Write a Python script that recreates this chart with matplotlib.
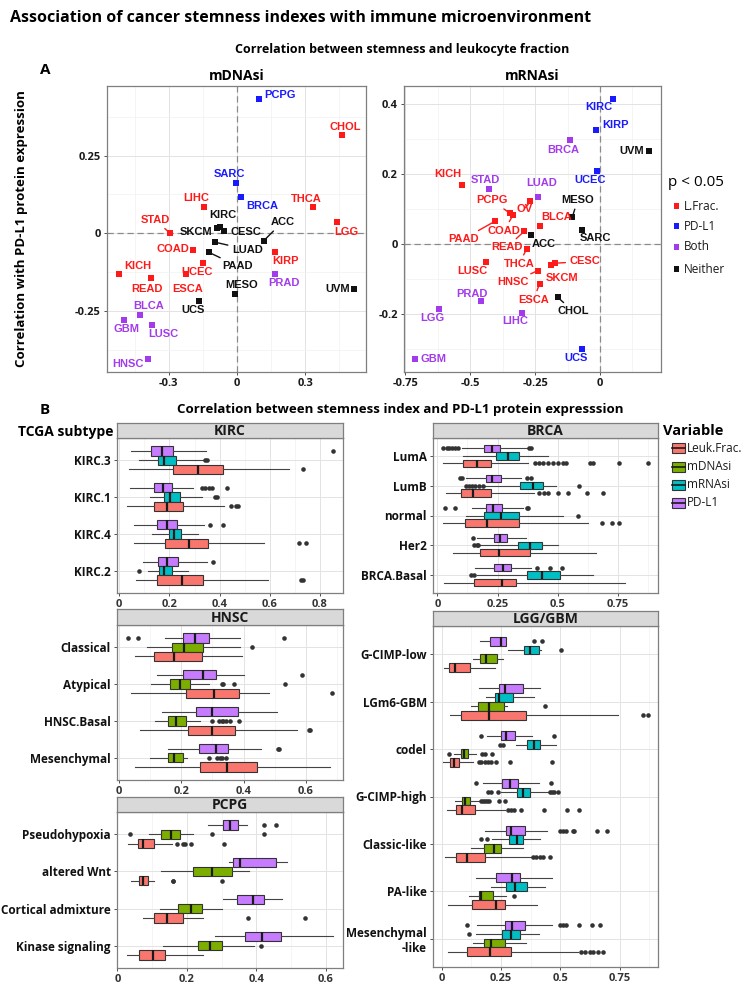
import matplotlib
matplotlib.use("Agg")
import matplotlib.pyplot as plt
from matplotlib.patches import Rectangle

W, H = 751, 992
fig = plt.figure(figsize=(W / 100, H / 100), dpi=100)

FONT = "Open Sans"
LABEL_FONT = "Liberation Sans"

# ---------------- data: panel A ----------------
SIG_COLORS = {"L.Frac.": "#FF1A1A", "PD-L1": "#1A1AFF", "Both": "#A23BEC", "Neither": "#111111"}

MD_CANCERS = ["PCPG", "CHOL", "SARC", "BRCA", "LIHC", "THCA", "LGG", "STAD", "KIRC", "SKCM",
              "CESC", "ACC", "LUAD", "PAAD", "COAD", "KIRP", "UCEC", "ESCA", "KICH", "READ",
              "PRAD", "MESO", "UVM", "UCS", "BLCA", "GBM", "LUSC", "HNSC"]
MD_X = [0.096, 0.463, -0.003, 0.018, -0.144, 0.335, 0.441, -0.294, -0.074, -0.088,
        -0.056, 0.118, -0.096, -0.125, -0.194, 0.169, -0.147, -0.226, -0.519, -0.378,
        0.165, -0.010, 0.515, -0.165, -0.426, -0.496, -0.375, -0.393]
MD_Y = [0.432, 0.317, 0.162, 0.118, 0.084, 0.084, 0.035, 0.000, 0.019, 0.016,
        0.006, -0.024, -0.029, -0.061, -0.054, -0.059, -0.095, -0.131, -0.133, -0.144,
        -0.133, -0.195, -0.181, -0.217, -0.265, -0.279, -0.295, -0.405]
MD_SIG = ["PD-L1", "L.Frac.", "PD-L1", "PD-L1", "L.Frac.", "L.Frac.", "L.Frac.", "L.Frac.", "Neither", "Neither",
          "Neither", "Neither", "Neither", "Neither", "L.Frac.", "L.Frac.", "L.Frac.", "L.Frac.", "L.Frac.", "L.Frac.",
          "Both", "Neither", "Neither", "Neither", "Both", "Both", "Both", "Both"]

MR_CANCERS = ["KIRC", "KIRP", "BRCA", "UVM", "UCEC", "KICH", "STAD", "LUAD", "OV", "PCPG",
              "COAD", "READ", "THCA", "MESO", "PAAD", "BLCA", "ACC", "SARC", "LUSC", "CESC",
              "SKCM", "HNSC", "ESCA", "CHOL", "PRAD", "LIHC", "LGG", "GBM", "UCS"]
MR_X = [0.051, -0.015, -0.115, 0.188, -0.012, -0.532, -0.428, -0.240, -0.268, -0.346,
        -0.336, -0.292, -0.282, -0.106, -0.406, -0.233, -0.267, -0.071, -0.440, -0.173,
        -0.190, -0.240, -0.233, -0.163, -0.460, -0.301, -0.622, -0.714, -0.068]
MR_Y = [0.413, 0.326, 0.296, 0.266, 0.209, 0.169, 0.157, 0.133, 0.121, 0.087,
        0.081, 0.036, -0.014, 0.078, 0.064, 0.052, 0.026, 0.041, -0.052, -0.055,
        -0.060, -0.076, -0.114, -0.152, -0.164, -0.197, -0.186, -0.328, -0.300]
MR_SIG = ["PD-L1", "PD-L1", "Both", "Neither", "PD-L1", "L.Frac.", "Both", "Both", "L.Frac.", "L.Frac.",
          "L.Frac.", "L.Frac.", "L.Frac.", "Neither", "L.Frac.", "L.Frac.", "Neither", "Neither", "L.Frac.", "L.Frac.",
          "L.Frac.", "L.Frac.", "L.Frac.", "Neither", "Both", "Both", "Both", "Both", "PD-L1"]

# label placement (layout, not data)
MD_LABELS = {"PCPG": (0.188, 0.445), "CHOL": (0.478, 0.343), "SARC": (-0.034, 0.191), "BRCA": (0.110, 0.089),
             "LIHC": (-0.179, 0.114), "THCA": (0.306, 0.111), "LGG": (0.481, 0.005), "STAD": (-0.360, 0.043),
             "KIRC": (-0.062, 0.059), "SKCM": (-0.181, 0.003), "CESC": (0.037, 0.003), "ACC": (0.199, 0.035),
             "LUAD": (0.046, -0.053), "PAAD": (0.003, -0.106), "COAD": (-0.282, -0.050), "KIRP": (0.213, -0.090),
             "UCEC": (-0.176, -0.126), "ESCA": (-0.218, -0.181), "KICH": (-0.437, -0.106), "READ": (-0.397, -0.181),
             "PRAD": (0.206, -0.161), "MESO": (0.022, -0.167), "UVM": (0.441, -0.181), "UCS": (-0.191, -0.247),
             "BLCA": (-0.390, -0.236), "GBM": (-0.485, -0.308), "LUSC": (-0.324, -0.324), "HNSC": (-0.478, -0.421)}
MD_LEADERS = {"STAD", "ACC", "LUAD", "PAAD"}

MR_LABELS = {"KIRC": (-0.006, 0.390), "KIRP": (0.060, 0.340), "BRCA": (-0.141, 0.269), "UVM": (0.124, 0.264),
             "UCEC": (-0.038, 0.183), "KICH": (-0.587, 0.200), "STAD": (-0.442, 0.181), "LUAD": (-0.224, 0.174),
             "PCPG": (-0.417, 0.124), "OV": (-0.291, 0.100), "MESO": (-0.086, 0.125), "BLCA": (-0.167, 0.076),
             "PAAD": (-0.526, 0.014), "COAD": (-0.369, 0.038), "ACC": (-0.215, 0.000), "SARC": (-0.019, 0.016),
             "READ": (-0.359, -0.010), "LUSC": (-0.491, -0.078), "THCA": (-0.312, -0.057), "CESC": (-0.058, -0.050),
             "SKCM": (-0.147, -0.097), "HNSC": (-0.336, -0.109), "ESCA": (-0.256, -0.159), "CHOL": (-0.103, -0.192),
             "PRAD": (-0.494, -0.143), "LIHC": (-0.327, -0.220), "LGG": (-0.647, -0.212), "GBM": (-0.641, -0.328),
             "UCS": (-0.092, -0.326)}
MR_LEADERS = {"PCPG", "MESO", "PAAD", "COAD", "READ", "THCA", "CESC", "HNSC", "ESCA", "CHOL", "OV"}

# ---------------- data: panel B (whislo, q1, med, q3, whishi, outliers) ----------------
VAR_ORDER = ["PD-L1", "mRNAsi", "mDNAsi", "Leuk.Frac."]  # top to bottom inside each subtype
VAR_COLORS = {"Leuk.Frac.": "#F8766D", "mDNAsi": "#7CAE00", "mRNAsi": "#00BFC4", "PD-L1": "#C77CFF"}

KIRC_CATS = ["KIRC.3", "KIRC.1", "KIRC.4", "KIRC.2"]
KIRC_ROWS = [
    ("KIRC.3", "PD-L1", 0.045, 0.125, 0.169, 0.215, 0.344, [0.851]),
    ("KIRC.3", "mRNAsi", 0.080, 0.156, 0.178, 0.225, 0.335, [0.340, 0.348]),
    ("KIRC.3", "Leuk.Frac.", 0.040, 0.215, 0.312, 0.415, 0.677, [0.734]),
    ("KIRC.1", "PD-L1", 0.043, 0.140, 0.176, 0.211, 0.295, [0.328, 0.342, 0.359, 0.368, 0.431]),
    ("KIRC.1", "mRNAsi", 0.122, 0.180, 0.202, 0.241, 0.328, [0.382, 0.391]),
    ("KIRC.1", "Leuk.Frac.", 0.032, 0.140, 0.189, 0.253, 0.419, [0.445, 0.465, 0.475]),
    ("KIRC.4", "PD-L1", 0.060, 0.149, 0.189, 0.229, 0.339, [0.362, 0.412]),
    ("KIRC.4", "mRNAsi", 0.132, 0.197, 0.219, 0.247, 0.315, []),
    ("KIRC.4", "Leuk.Frac.", 0.060, 0.184, 0.277, 0.352, 0.578, [0.717, 0.743]),
    ("KIRC.2", "PD-L1", 0.096, 0.156, 0.191, 0.235, 0.348, [0.372]),
    ("KIRC.2", "mRNAsi", 0.116, 0.158, 0.180, 0.210, 0.275, [0.077]),
    ("KIRC.2", "Leuk.Frac.", 0.066, 0.152, 0.250, 0.332, 0.594, [0.725, 0.734]),
]

HNSC_CATS = ["Classical", "Atypical", "HNSC.Basal", "Mesenchymal"]
HNSC_ROWS = [
    ("Classical", "PD-L1", 0.146, 0.204, 0.245, 0.288, 0.390, [0.027, 0.060, 0.530]),
    ("Classical", "mDNAsi", 0.088, 0.169, 0.210, 0.270, 0.390, [0.428]),
    ("Classical", "Leuk.Frac.", 0.050, 0.113, 0.176, 0.267, 0.394, []),
    ("Atypical", "PD-L1", 0.122, 0.206, 0.270, 0.311, 0.400, [0.589]),
    ("Atypical", "mDNAsi", 0.102, 0.165, 0.195, 0.228, 0.290, [0.330, 0.335, 0.370, 0.534]),
    ("Atypical", "Leuk.Frac.", 0.038, 0.214, 0.306, 0.386, 0.482, [0.686]),
    ("HNSC.Basal", "PD-L1", 0.138, 0.246, 0.297, 0.381, 0.507, []),
    ("HNSC.Basal", "mDNAsi", 0.115, 0.158, 0.183, 0.214, 0.260, [0.297, 0.320, 0.330, 0.335, 0.345, 0.355, 0.386]),
    ("HNSC.Basal", "Leuk.Frac.", 0.067, 0.222, 0.297, 0.372, 0.571, [0.610, 0.614]),
    ("Mesenchymal", "PD-L1", 0.158, 0.257, 0.313, 0.351, 0.456, [0.512, 0.515]),
    ("Mesenchymal", "mDNAsi", 0.099, 0.156, 0.176, 0.206, 0.219, [0.290, 0.316, 0.324, 0.330, 0.343]),
    ("Mesenchymal", "Leuk.Frac.", 0.050, 0.260, 0.346, 0.442, 0.678, []),
]

PCPG_CATS = ["Pseudohypoxia", "altered Wnt", "Cortical admixture", "Kinase signaling"]
PCPG_ROWS = [
    ("Pseudohypoxia", "PD-L1", 0.260, 0.305, 0.325, 0.348, 0.372, [0.423, 0.455]),
    ("Pseudohypoxia", "mDNAsi", 0.092, 0.126, 0.154, 0.180, 0.219, [0.035, 0.272, 0.423]),
    ("Pseudohypoxia", "Leuk.Frac.", 0.030, 0.060, 0.075, 0.104, 0.156, [0.171, 0.188, 0.195, 0.212, 0.307]),
    ("altered Wnt", "PD-L1", 0.322, 0.332, 0.353, 0.455, 0.487, []),
    ("altered Wnt", "mDNAsi", 0.126, 0.217, 0.272, 0.329, 0.379, []),
    ("altered Wnt", "Leuk.Frac.", 0.038, 0.063, 0.073, 0.089, 0.104, [0.159, 0.160, 0.302]),
    ("Cortical admixture", "PD-L1", 0.303, 0.343, 0.391, 0.423, 0.473, []),
    ("Cortical admixture", "mDNAsi", 0.123, 0.174, 0.212, 0.244, 0.300, []),
    ("Cortical admixture", "Leuk.Frac.", 0.073, 0.104, 0.142, 0.190, 0.247, [0.375, 0.540]),
    ("Kinase signaling", "PD-L1", 0.281, 0.368, 0.415, 0.470, 0.621, []),
    ("Kinase signaling", "mDNAsi", 0.132, 0.231, 0.267, 0.300, 0.393, [0.413]),
    ("Kinase signaling", "Leuk.Frac.", 0.029, 0.063, 0.102, 0.137, 0.245, []),
]

BRCA_CATS = ["LumA", "LumB", "normal", "Her2", "BRCA.Basal"]
BRCA_ROWS = [
    ("LumA", "PD-L1", 0.104, 0.193, 0.225, 0.260, 0.370,
     [0.025, 0.038, 0.050, 0.062, 0.075, 0.087, 0.380, 0.390]),
    ("LumA", "mRNAsi", 0.108, 0.243, 0.291, 0.338, 0.460, []),
    ("LumA", "Leuk.Frac.", 0.025, 0.105, 0.163, 0.221, 0.377,
     [0.405, 0.420, 0.440, 0.460, 0.480, 0.500, 0.520, 0.535, 0.633, 0.646, 0.754, 0.874]),
    ("LumB", "PD-L1", 0.120, 0.202, 0.225, 0.262, 0.345, [0.094, 0.104, 0.370, 0.387]),
    ("LumB", "mRNAsi", 0.198, 0.343, 0.398, 0.439, 0.494, [0.119, 0.133, 0.143, 0.157, 0.173, 0.190, 0.587]),
    ("LumB", "Leuk.Frac.", 0.036, 0.097, 0.146, 0.221, 0.402, [0.421, 0.443, 0.460, 0.499, 0.540, 0.619, 0.688]),
    ("normal", "PD-L1", 0.142, 0.202, 0.232, 0.269, 0.355, [0.032, 0.073, 0.370, 0.375]),
    ("normal", "mRNAsi", 0.117, 0.195, 0.262, 0.338, 0.522, [0.584]),
    ("normal", "Leuk.Frac.", 0.025, 0.115, 0.204, 0.338, 0.626, [0.681, 0.725, 0.753]),
    ("Her2", "PD-L1", 0.163, 0.235, 0.260, 0.290, 0.366, [0.146]),
    ("Her2", "mRNAsi", 0.177, 0.333, 0.384, 0.432, 0.499, [0.153, 0.163, 0.170]),
    ("Her2", "Leuk.Frac.", 0.064, 0.177, 0.257, 0.384, 0.657, []),
    ("BRCA.Basal", "PD-L1", 0.156, 0.236, 0.273, 0.304, 0.388, [0.412, 0.467, 0.515]),
    ("BRCA.Basal", "mRNAsi", 0.163, 0.373, 0.436, 0.508, 0.646, [0.140, 0.153]),
    ("BRCA.Basal", "Leuk.Frac.", 0.029, 0.152, 0.269, 0.325, 0.780, []),
]

LGG_CATS = ["G-CIMP-low", "LGm6-GBM", "codel", "G-CIMP-high", "Classic-like", "PA-like", "Mesenchymal\n-like"]
LGG_ROWS = [
    ("G-CIMP-low", "PD-L1", 0.160, 0.202, 0.251, 0.270, 0.272, [0.389, 0.424]),
    ("G-CIMP-low", "mRNAsi", 0.280, 0.346, 0.371, 0.410, 0.420, [0.504]),
    ("G-CIMP-low", "mDNAsi", 0.132, 0.163, 0.185, 0.233, 0.258, []),
    ("G-CIMP-low", "Leuk.Frac.", 0.008, 0.031, 0.055, 0.121, 0.226, []),
    ("LGm6-GBM", "PD-L1", 0.156, 0.240, 0.265, 0.343, 0.416, []),
    ("LGm6-GBM", "mRNAsi", 0.188, 0.226, 0.242, 0.300, 0.388, []),
    ("LGm6-GBM", "mDNAsi", 0.125, 0.153, 0.198, 0.263, 0.277, [0.434]),
    ("LGm6-GBM", "Leuk.Frac.", 0.034, 0.079, 0.200, 0.357, 0.743, [0.848, 0.869]),
    ("codel", "PD-L1", 0.191, 0.251, 0.272, 0.308, 0.381, [0.164, 0.472]),
    ("codel", "mRNAsi", 0.315, 0.360, 0.388, 0.413, 0.483, [0.247, 0.258]),
    ("codel", "mDNAsi", 0.051, 0.080, 0.094, 0.111, 0.146, [0.030, 0.170, 0.181, 0.212]),
    ("codel", "Leuk.Frac.", 0.006, 0.034, 0.051, 0.073, 0.131,
     [0.156, 0.167, 0.181, 0.195, 0.209, 0.230, 0.287, 0.465]),
    ("G-CIMP-high", "PD-L1", 0.174, 0.256, 0.287, 0.322, 0.409, [0.146, 0.462]),
    ("G-CIMP-high", "mRNAsi", 0.250, 0.317, 0.343, 0.371, 0.448, [0.195, 0.206, 0.237, 0.455, 0.465, 0.475, 0.490]),
    ("G-CIMP-high", "mDNAsi", 0.055, 0.086, 0.100, 0.118, 0.160, [0.167, 0.175, 0.183, 0.191, 0.200, 0.240, 0.268]),
    ("G-CIMP-high", "Leuk.Frac.", 0.020, 0.059, 0.087, 0.142, 0.265, [0.280, 0.294, 0.305, 0.333, 0.430, 0.530, 0.577]),
    ("Classic-like", "PD-L1", 0.181, 0.270, 0.294, 0.353, 0.445, [0.497, 0.511, 0.525, 0.553, 0.557, 0.654, 0.697]),
    ("Classic-like", "mRNAsi", 0.212, 0.282, 0.317, 0.343, 0.416, [0.167, 0.191]),
    ("Classic-like", "mDNAsi", 0.125, 0.178, 0.219, 0.251, 0.343, []),
    ("Classic-like", "Leuk.Frac.", 0.013, 0.062, 0.105, 0.184, 0.378, [0.385, 0.399, 0.413, 0.427, 0.455]),
    ("PA-like", "PD-L1", 0.146, 0.228, 0.298, 0.331, 0.466, []),
    ("PA-like", "mRNAsi", 0.206, 0.270, 0.308, 0.360, 0.434, []),
    ("PA-like", "mDNAsi", 0.114, 0.157, 0.167, 0.216, 0.272, [0.305]),
    ("PA-like", "Leuk.Frac.", 0.027, 0.128, 0.230, 0.265, 0.402, []),
    ("Mesenchymal\n-like", "PD-L1", 0.150, 0.265, 0.298, 0.350, 0.465, [0.108, 0.500, 0.511, 0.522, 0.577, 0.633, 0.669]),
    ("Mesenchymal\n-like", "mRNAsi", 0.143, 0.254, 0.294, 0.329, 0.410, [0.115]),
    ("Mesenchymal\n-like", "mDNAsi", 0.132, 0.178, 0.209, 0.268, 0.357, []),
    ("Mesenchymal\n-like", "Leuk.Frac.", 0.027, 0.107, 0.202, 0.294, 0.574, [0.588, 0.603, 0.624, 0.638, 0.659, 0.680]),
]


# ---------------- helpers ----------------
def px_axes(l, t, r, b):
    return fig.add_axes([l / W, 1 - b / H, (r - l) / W, (b - t) / H])


def ftext(x, y, s, **kw):
    kw.setdefault("family", FONT)
    fig.text(x / W, 1 - y / H, s, **kw)


def style_axes(ax):
    ax.set_facecolor("white")
    for sp in ax.spines.values():
        sp.set_color("#7F7F7F")
        sp.set_linewidth(0.9)
    ax.tick_params(length=2.5, width=0.6, color="#333333", labelsize=8, pad=2,
                   labelcolor="#1A1A1A")
    for lab in ax.get_xticklabels() + ax.get_yticklabels():
        lab.set_fontweight("bold")
        lab.set_family(FONT)
    ax.grid(True, which="major", color="#E3E3E3", lw=0.7)
    ax.grid(True, which="minor", color="#F1F1F1", lw=0.5)
    ax.set_axisbelow(True)
    ax.tick_params(which="minor", length=0)


def scatter_panel(ax, cancers, xs, ys, sig, labels, leaders, xlim, ylim, xt, yt, xminor, yminor, title):
    ax.set_xlim(xlim)
    ax.set_ylim(ylim)
    ax.set_xticks(xt)
    ax.set_xticklabels([("%g" % v) for v in xt])
    ax.set_yticks(yt)
    ax.set_yticklabels([("%g" % v) for v in yt])
    ax.set_xticks(xminor, minor=True)
    ax.set_yticks(yminor, minor=True)
    style_axes(ax)
    ax.axhline(0, color="#8A8A8A", lw=0.9, ls=(0, (5, 3)), zorder=1)
    ax.axvline(0, color="#8A8A8A", lw=0.9, ls=(0, (5, 3)), zorder=1)
    for c, x, y, s in zip(cancers, xs, ys, sig):
        col = SIG_COLORS[s]
        ax.scatter([x], [y], marker="s", s=15, color=col, linewidths=0, zorder=3)
        tx, ty = labels[c]
        kw = dict(color=col, fontsize=8, fontweight="bold", family=LABEL_FONT,
                  ha="center", va="center", zorder=4)
        if c in leaders:
            ax.annotate(c, xy=(x, y), xytext=(tx, ty),
                        arrowprops=dict(arrowstyle="-", color=col, lw=1.0, shrinkA=1, shrinkB=1), **kw)
        else:
            ax.text(tx, ty, c, **kw)
    ax.set_title(title, fontsize=10, fontweight="bold", family=FONT, pad=4)


def box_panel(ax, cats, rows, xlim, xt, xtl, xminor, title, strip_t, strip_b, l, r):
    n = len(cats)
    for i, cat in enumerate(cats):
        yc = n - i
        present = [rw for v in VAR_ORDER for rw in rows if rw[0] == cat and rw[1] == v]
        k = len(present)
        w = 0.75 / k
        for j, rw in enumerate(present):
            pos = yc + 0.375 - w * (j + 0.5)
            st = dict(whislo=rw[2], q1=rw[3], med=rw[4], q3=rw[5], whishi=rw[6], fliers=rw[7])
            ax.bxp([st], positions=[pos], widths=[w], orientation="horizontal",
                   patch_artist=True, showcaps=False, manage_ticks=False,
                   boxprops=dict(facecolor=VAR_COLORS[rw[1]], edgecolor="#333333", linewidth=0.8),
                   medianprops=dict(color="#1A1A1A", linewidth=1.6),
                   whiskerprops=dict(color="#444444", linewidth=0.8),
                   flierprops=dict(marker="o", markersize=3.3, markerfacecolor="#333333",
                                   markeredgecolor="none"))
    ax.set_ylim(0.4, n + 0.6)
    ax.set_xlim(xlim)
    ax.set_yticks(list(range(n, 0, -1)))
    ax.set_yticklabels(cats, fontsize=8.5)
    ax.set_xticks(xt)
    ax.set_xticklabels(xtl)
    ax.set_xticks(xminor, minor=True)
    style_axes(ax)
    for lab in ax.get_yticklabels():
        lab.set_fontsize(8.5)
        lab.set_color("#111111")
    for lab in ax.get_xticklabels():
        lab.set_color("#333333")
    ax.grid(False, axis="y", which="minor")
    sax = px_axes(l, strip_t, r, strip_b)
    sax.set_facecolor("#D9D9D9")
    sax.set_xticks([])
    sax.set_yticks([])
    for sp in sax.spines.values():
        sp.set_color("#7F7F7F")
        sp.set_linewidth(0.9)
    sax.text(0.5, 0.45, title, ha="center", va="center", fontsize=10, fontweight="bold",
             family=FONT, color="#1A1A1A", transform=sax.transAxes)


# ---------------- headings ----------------
ftext(10, 18, "Association of cancer stemness indexes with immune microenvironment",
      fontsize=11.5, fontweight="bold", va="center", ha="left")
ftext(402, 50, "Correlation between stemness and leukocyte fraction",
      fontsize=9, fontweight="bold", va="center", ha="center")
ftext(40, 70, "A", fontsize=11, fontweight="bold", va="center", ha="left")
ftext(22, 229, "Correlation with PD-L1 protein expression", fontsize=9.5, fontweight="bold",
      va="center", ha="center", rotation=90)

# ---------------- panel A ----------------
ax1 = px_axes(107, 86, 366, 372)
scatter_panel(ax1, MD_CANCERS, MD_X, MD_Y, MD_SIG, MD_LABELS, MD_LEADERS,
              (-0.571, 0.567), (-0.447, 0.474), [-0.3, 0, 0.3], [-0.25, 0, 0.25],
              [-0.45, -0.15, 0.15, 0.45], [-0.375, -0.125, 0.125, 0.375], "mDNAsi")

ax2 = px_axes(404, 86, 661, 372)
scatter_panel(ax2, MR_CANCERS, MR_X, MR_Y, MR_SIG, MR_LABELS, MR_LEADERS,
              (-0.755, 0.235), (-0.365, 0.45), [-0.75, -0.5, -0.25, 0], [-0.2, 0, 0.2, 0.4],
              [-0.625, -0.375, -0.125, 0.125], [-0.3, -0.1, 0.1, 0.3], "mRNAsi")

# legend for panel A
ftext(668, 182, "p < 0.05", fontsize=11, va="center", ha="left")
for k, (name, yy) in enumerate(zip(["L.Frac.", "PD-L1", "Both", "Neither"], [206, 226, 247, 269])):
    fig.patches.append(Rectangle(((674) / W, 1 - (yy + 3) / H), 5 / W, 6 / H,
                                 transform=fig.transFigure, facecolor=SIG_COLORS[name],
                                 edgecolor="none"))
    ftext(684, yy, name, fontsize=8.5, va="center", ha="left", color="#1A1A1A")

# ---------------- panel B ----------------
ftext(40, 410, "B", fontsize=11, fontweight="bold", va="center", ha="left")
ftext(400, 410, "Correlation between stemness index and PD-L1 protein expresssion",
      fontsize=9.5, fontweight="bold", va="center", ha="center")
ftext(18, 432, "TCGA subtype", fontsize=10, fontweight="bold", va="center", ha="left")

bk = px_axes(117, 438, 343, 593)
box_panel(bk, KIRC_CATS, KIRC_ROWS, (-0.009, 0.892), [0, 0.2, 0.4, 0.6, 0.8],
          ["0", "0.2", "0.4", "0.6", "0.8"], [0.1, 0.3, 0.5, 0.7], "KIRC", 423, 438, 117, 343)

bh = px_axes(117, 625, 343, 780)
box_panel(bh, HNSC_CATS, HNSC_ROWS, (-0.007, 0.72), [0, 0.2, 0.4, 0.6],
          ["0", "0.2", "0.4", "0.6"], [0.1, 0.3, 0.5, 0.7], "HNSC", 609, 625, 117, 343)

bp = px_axes(117, 812, 343, 968)
box_panel(bp, PCPG_CATS, PCPG_ROWS, (-0.001, 0.649), [0, 0.2, 0.4, 0.6],
          ["0", "0.2", "0.4", "0.6"], [0.1, 0.3, 0.5], "PCPG", 797, 812, 117, 343)

bb = px_axes(433, 438, 658, 593)
box_panel(bb, BRCA_CATS, BRCA_ROWS, (-0.018, 0.915), [0, 0.25, 0.5, 0.75],
          ["0", "0.25", "0.5", "0.75"], [0.125, 0.375, 0.625, 0.875], "BRCA", 423, 438, 433, 658)

bl = px_axes(433, 626, 658, 967)
box_panel(bl, LGG_CATS, LGG_ROWS, (-0.037, 0.912), [0, 0.25, 0.5, 0.75],
          ["0", "0.25", "0.5", "0.75"], [0.125, 0.375, 0.625, 0.875], "LGG/GBM", 611, 626, 433, 658)

# legend for panel B
ftext(663, 431, "Variable", fontsize=10.5, fontweight="bold", va="center", ha="left")
for name, yy in zip(["Leuk.Frac.", "mDNAsi", "mRNAsi", "PD-L1"], [448, 467, 485, 503]):
    fig.patches.append(Rectangle((672 / W, 1 - (yy + 5) / H), 13 / W, 10 / H,
                                 transform=fig.transFigure, facecolor=VAR_COLORS[name],
                                 edgecolor="#333333", linewidth=0.8))
    fig.lines.append(plt.Line2D([672 / W, 685 / W], [1 - yy / H, 1 - yy / H],
                                transform=fig.transFigure, color="#1A1A1A", lw=1.2))
    ftext(687, yy, name, fontsize=8.5, va="center", ha="left", color="#1A1A1A")

fig.savefig("out.png", dpi=100)
